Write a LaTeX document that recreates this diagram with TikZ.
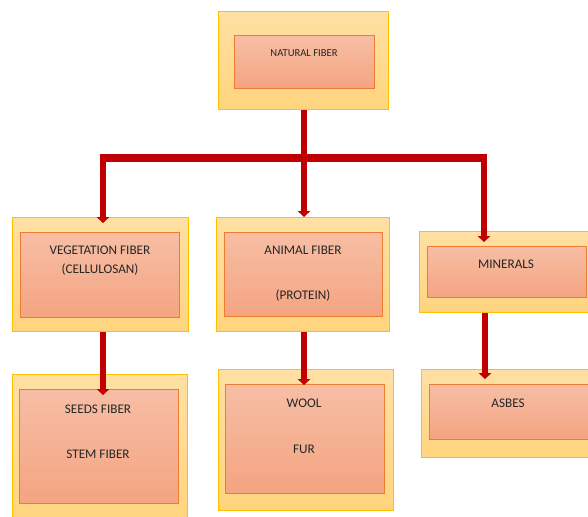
\documentclass[tikz,border=0pt]{standalone}
\usepackage{fontspec}
\setmainfont{Carlito}
\usetikzlibrary{arrows.meta,positioning}
\definecolor{FibGold}{HTML}{FFC000}
\definecolor{FibSandTop}{HTML}{FFE0A3}
\definecolor{FibSandBot}{HTML}{FFD47E}
\definecolor{FibRust}{HTML}{ED7D31}
\definecolor{FibPeachTop}{HTML}{F7BEA5}
\definecolor{FibPeachBot}{HTML}{F4A481}
\definecolor{FibRed}{HTML}{C00000}
\definecolor{FibInk}{HTML}{262626}

\begin{document}
\begin{tikzpicture}[x=1pt,y=-1pt,
    outbox/.style={draw=FibGold,line width=1.4pt,top color=FibSandTop,bottom color=FibSandBot,inner sep=0pt,anchor=north west},
    inbox/.style={draw=FibRust,line width=1.1pt,top color=FibPeachTop,bottom color=FibPeachBot,inner sep=0pt,anchor=north west},
    lbl/.style={text=FibInk,font=\fontsize{13.2}{15.5}\selectfont,inner sep=0pt},
    link/.style={draw=FibRed,line width=6pt},
    arr/.style={link,-{Triangle[width=12.5pt,length=6pt]}}
  ]
    \clip (0,0) rectangle (588,516);
    % top box
    \node[outbox,minimum width=170pt,minimum height=98pt] (natO) at (218,11) {};
    \node[inbox,minimum width=140pt,minimum height=53pt] (nat) at (234,35) {};
    \node[lbl,font=\fontsize{10.6}{12}\selectfont] (natT) at (304,53) {NATURAL FIBER};
    % second row
    \node[outbox,minimum width=176pt,minimum height=114pt] (vegO) at (12,217) {};
    \node[inbox,minimum width=159pt,minimum height=85pt] (veg) at (20,232) {};
    \node[lbl,align=center] (vegT) at (100,261) {VEGETATION FIBER\\[3.5pt](CELLULOSAN)};
    \node[outbox,minimum width=173pt,minimum height=114pt] (aniO) at (216,217) {};
    \node[inbox,minimum width=158pt,minimum height=84pt] (ani) at (224,232) {};
    \node[lbl] (aniT) at (303,250) {ANIMAL FIBER};
    \node[lbl] (proT) at (303,296) {(PROTEIN)};
    \node[outbox,minimum width=175pt,minimum height=81pt] (minO) at (419,231) {};
    \node[inbox,minimum width=159pt,minimum height=51pt] (min) at (427,246) {};
    \node[lbl] (minT) at (506,264) {MINERALS};
    % third row
    \node[outbox,minimum width=175pt,minimum height=150pt] (seedO) at (12,374) {};
    \node[inbox,minimum width=159pt,minimum height=114pt] (seed) at (19,389) {};
    \node[lbl] (seedT) at (98,409) {SEEDS FIBER};
    \node[lbl] (stemT) at (98,454) {STEM FIBER};
    \node[outbox,minimum width=175pt,minimum height=141pt] (woolO) at (218,369) {};
    \node[inbox,minimum width=159pt,minimum height=109pt] (wool) at (225,384) {};
    \node[lbl] (woolT) at (304,403) {WOOL};
    \node[lbl] (furT) at (304,449) {FUR};
    \node[outbox,minimum width=175pt,minimum height=88pt] (asbO) at (421,369) {};
    \node[inbox,minimum width=160pt,minimum height=55pt] (asb) at (429,384) {};
    \node[lbl] (asbT) at (508,403) {ASBES};
    % connectors
    \coordinate (bar) at (304,158);
    \coordinate (barL) at (103,158);
    \coordinate (barR) at (484,158);
    \coordinate (minIn) at (484,242);
    \coordinate (asbIn) at (485,379);
    \draw[link] (natO.south -| bar) -- (bar);
    \draw[link,line width=8.5pt] ([xshift=-3pt]barL) -- ([xshift=3pt]barR);
    \draw[arr] (barL) -- ([yshift=-6pt]vegO.north -| barL);
    \draw[arr] (bar) -- (aniO.north -| bar);
    \draw[arr] (barR) -- (minIn);
    \draw[arr] (vegO.south -| barL) -- ([yshift=-6pt]seed.north -| barL);
    \draw[arr] (aniO.south -| bar) -- ([yshift=-1pt]wool.north -| bar);
    \draw[arr] (minO.south -| asbIn) -- (asbIn);
\end{tikzpicture}
\end{document}
